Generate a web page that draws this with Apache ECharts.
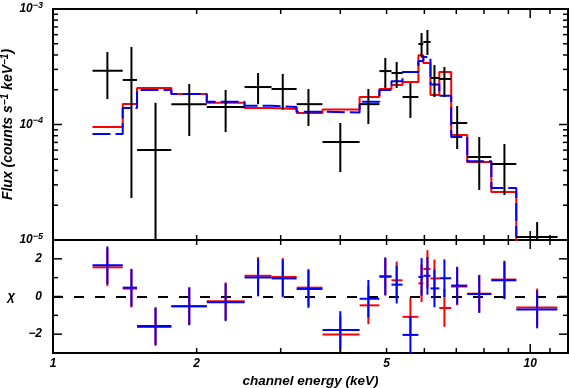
<!DOCTYPE html>
<html lang="en">
<head>
<meta charset="UTF-8">
<title>spectrum</title>
<style>
	*{margin: 0; padding: 0; box-sizing: border-box;}
	body{background-color: #fff;}
	#view{width: 569px; height: 388px;}
</style>
</head>
<body>
<div id="view"></div>
<script src="https://cdn.jsdelivr.net/npm/echarts@6/dist/echarts.min.js"></script>
<script>
// channel bins (keV)
var binLo  = [1.21, 1.40, 1.50, 1.77, 2.10, 2.52, 2.87, 3.24, 3.67, 4.39, 4.83, 5.12, 5.40, 5.83, 5.97, 6.18, 6.45, 6.83, 7.38, 8.29, 9.35];
var binHi  = [1.40, 1.50, 1.77, 2.10, 2.52, 2.87, 3.24, 3.67, 4.39, 4.83, 5.12, 5.40, 5.83, 5.97, 6.18, 6.45, 6.83, 7.38, 8.29, 9.35, 11.4];
var binMid = [1.30, 1.46, 1.64, 1.93, 2.30, 2.69, 3.03, 3.43, 4.00, 4.58, 4.97, 5.25, 5.61, 5.92, 6.09, 6.30, 6.61, 7.03, 7.82, 8.83, 10.34];

// observed flux (counts s^-1 keV^-1) with error bar ends
var flux   = [2.92e-4, 2.43e-4, 6.0e-5, 1.50e-4, 1.42e-4, 2.11e-4, 2.03e-4, 1.50e-4, 7.06e-5, 1.50e-4, 2.90e-4, 2.79e-4, 1.73e-4, 4.98e-4, 5.18e-4, 2.53e-4, 2.48e-4, 1.03e-4, 5.23e-5, 4.55e-5, 1.06e-5];
var fluxLo = [1.66e-4, 2.31e-5, 1.0e-5, 7.95e-5, 8.6e-5, 1.50e-4, 1.34e-4, 9.7e-5, 3.88e-5, 1.01e-4, 2.07e-4, 2.07e-4, 1.14e-4, 3.8e-4, 4.0e-4, 1.73e-4, 1.73e-4, 6.14e-5, 2.71e-5, 2.45e-5, 1.0e-5];
var fluxHi = [4.24e-4, 4.69e-4, 1.54e-4, 2.24e-4, 1.99e-4, 2.79e-4, 2.74e-4, 2.03e-4, 1.03e-4, 2.03e-4, 3.77e-4, 3.48e-4, 2.29e-4, 6.2e-4, 6.58e-4, 3.27e-4, 3.15e-4, 1.445e-4, 7.8e-5, 6.78e-5, 1.43e-5];

// folded models
var modelRed  = [9.5e-5, 1.505e-4, 2.07e-4, 1.84e-4, 1.54e-4, 1.39e-4, 1.36e-4, 1.26e-4, 1.35e-4, 1.73e-4, 2.03e-4, 2.20e-4, 2.33e-4, 3.98e-4, 3.4e-4, 1.80e-4, 2.85e-4, 8.11e-5, 4.73e-5, 2.6e-5, 9.0e-6];
var modelBlue = [8.28e-5, 1.39e-4, 1.99e-4, 1.84e-4, 1.57e-4, 1.45e-4, 1.42e-4, 1.29e-4, 1.27e-4, 1.57e-4, 1.99e-4, 2.37e-4, 2.85e-4, 3.55e-4, 3.84e-4, 2.22e-4, 1.77e-4, 7.8e-5, 4.8e-5, 2.82e-5, 1.06e-5];

// residuals (chi)
var chiRed  = [1.55, 0.42, -1.62, -0.52, -0.25, 1.10, 1.04, 0.47, -2.02, -0.47, 1.08, 0.86, -1.08, 0.70, 1.46, 0.96, -0.61, 0.53, 0.15, 0.90, -0.58];
var chiBlue = [1.66, 0.47, -1.57, -0.52, -0.31, 1.01, 0.96, 0.40, -1.78, -0.12, 1.05, 0.63, -2.04, 1.04, 1.10, 0.43, 0.97, 0.58, 0.13, 0.86, -0.69];

// ticks and labels
var energyTicks  = [1, 2, 3, 4, 5, 6, 7, 8, 9, 10, 11];
var energyMajor  = [1, 10];
var energyLabels = [1, 2, 5, 10];
var fluxTicks  = [1e-5, 2e-5, 3e-5, 4e-5, 5e-5, 6e-5, 7e-5, 8e-5, 9e-5, 1e-4, 2e-4, 3e-4, 4e-4, 5e-4, 6e-4, 7e-4, 8e-4, 9e-4, 1e-3];
var fluxMajor  = [1e-5, 1e-4, 1e-3];
var chiTicks  = [-3, -2, -1, 0, 1, 2, 3];
var chiMajor  = [-2, 0, 2];

var FONT = 'Liberation Sans';
var txt = {fontFamily: FONT, fontWeight: 'bold', fontStyle: 'italic', color: '#000'};

function stepData(vals){
	var pts = binLo.map(function(x, i){ return [x, vals[i]]; });
	pts.push([binHi[binHi.length - 1], vals[vals.length - 1]]);
	return pts;
}
function crossData(mid, lo, hi){
	return binLo.map(function(x, i){ return [x, binHi[i], binMid[i], mid[i], lo[i], hi[i]]; });
}
function chiData(vals){
	return crossData(vals, vals.map(function(v){ return v - 1; }), vals.map(function(v){ return v + 1; }));
}
function crossRender(color){
	return function(params, api){
		var a = api.coord([api.value(0), api.value(3)]);
		var b = api.coord([api.value(1), api.value(3)]);
		var t = api.coord([api.value(2), api.value(5)]);
		var d = api.coord([api.value(2), api.value(4)]);
		var st = {stroke: color, lineWidth: 2};
		return {type: 'group', children: [
			{type: 'line', shape: {x1: a[0], y1: a[1], x2: b[0], y2: b[1]}, style: st},
			{type: 'line', shape: {x1: t[0], y1: t[1], x2: d[0], y2: d[1]}, style: st}
		]};
	};
}
// inward ticks on both sides of a grid
function tickSeries(vals, majors, dim, gi, ref){
	return {
		type: 'custom', xAxisIndex: gi, yAxisIndex: gi, silent: true, z: 10,
		data: vals.map(function(v){ return [v]; }),
		encode: dim === 'x' ? {x: 0} : {y: 0},
		renderItem: function(params, api){
			var cs = params.coordSys;
			var v = api.value(0);
			var len = majors.indexOf(v) >= 0 ? 9 : 5;
			var st = {stroke: '#000', lineWidth: 1.5};
			if (dim === 'x') {
				var x = api.coord([v, ref])[0];
				return {type: 'group', children: [
					{type: 'line', shape: {x1: x, y1: cs.y + cs.height, x2: x, y2: cs.y + cs.height - len}, style: st},
					{type: 'line', shape: {x1: x, y1: cs.y, x2: x, y2: cs.y + len}, style: st}
				]};
			}
			var y = api.coord([ref, v])[1];
			return {type: 'group', children: [
				{type: 'line', shape: {x1: cs.x, y1: y, x2: cs.x + len, y2: y}, style: st},
				{type: 'line', shape: {x1: cs.x + cs.width, y1: y, x2: cs.x + cs.width - len, y2: y}, style: st}
			]};
		}
	};
}

var supRich = {
	b: Object.assign({fontSize: 12}, txt),
	s: Object.assign({fontSize: 9, verticalAlign: 'bottom', padding: [0, 0, 7, 0]}, txt)
};
var titleRich = {
	s: Object.assign({fontSize: 10, verticalAlign: 'bottom', padding: [0, 0, 7, 0]}, txt)
};

var option = {
	animation: false,
	backgroundColor: '#fff',
	grid: [
		{left: 53, right: 1, top: 9, height: 231, show: true, borderColor: '#000', borderWidth: 2, outerBoundsMode: 'none', containLabel: false},
		{left: 53, right: 1, top: 240, height: 113, show: true, borderColor: '#000', borderWidth: 2, outerBoundsMode: 'none', containLabel: false}
	],
	xAxis: [
		{type: 'log', gridIndex: 0, min: 1, max: 12, logBase: 10,
			axisLine: {show: false}, axisTick: {show: false}, axisLabel: {show: false}, splitLine: {show: false}},
		{type: 'log', gridIndex: 1, min: 1, max: 12, logBase: 10,
			axisLine: {show: false}, axisTick: {show: false}, splitLine: {show: false},
			axisLabel: Object.assign({fontSize: 12, margin: 5, customValues: energyLabels, formatter: function(v){ return String(Math.round(v)); }}, txt),
			name: 'channel energy (keV)', nameLocation: 'middle', nameGap: 21,
			nameTextStyle: Object.assign({fontSize: 13.5}, txt)}
	],
	yAxis: [
		{type: 'log', gridIndex: 0, min: 1e-5, max: 1e-3, logBase: 10,
			axisLine: {show: false}, axisTick: {show: false}, splitLine: {show: false},
			axisLabel: Object.assign({margin: 10, customValues: fluxMajor, rich: supRich, formatter: function(v){
				var e = Math.round(Math.log10(v));
				return '{b|10}{s|' + (e < 0 ? '\u2212' : '') + Math.abs(e) + '}';
			}}, txt),
			name: 'Flux (counts s{s|\u22121} keV{s|\u22121})', nameLocation: 'middle', nameGap: 36, nameMoveOverlap: false,
			nameTextStyle: Object.assign({fontSize: 14, rich: titleRich}, txt)},
		{type: 'value', gridIndex: 1, min: -3, max: 3,
			axisLine: {show: false}, axisTick: {show: false}, splitLine: {show: false},
			axisLabel: Object.assign({fontSize: 12, margin: 11, customValues: chiMajor, formatter: function(v){ return String(v).replace('-', '\u2212'); }}, txt),
			name: '\u03c7', nameLocation: 'middle', nameGap: 38, nameRotate: 0,
			nameTextStyle: Object.assign({fontSize: 13}, txt)}
	],
	series: [
		{type: 'line', xAxisIndex: 0, yAxisIndex: 0, step: 'end', data: stepData(modelRed), symbol: 'none', silent: true,
			lineStyle: {color: '#ff0000', width: 2}, z: 3},
		{type: 'line', xAxisIndex: 0, yAxisIndex: 0, step: 'end', data: stepData(modelBlue), symbol: 'none', silent: true,
			lineStyle: {color: '#0000ff', width: 2, type: [18, 5]}, z: 4},
		{type: 'custom', xAxisIndex: 0, yAxisIndex: 0, clip: true, silent: true, z: 5,
			data: crossData(flux, fluxLo, fluxHi), encode: {x: [0, 1, 2], y: [3, 4, 5]}, renderItem: crossRender('#000')},
		{type: 'line', xAxisIndex: 1, yAxisIndex: 1, data: [], silent: true,
			markLine: {silent: true, symbol: 'none', label: {show: false},
				lineStyle: {color: '#000', width: 2, type: [10, 11]}, data: [{yAxis: 0}]}},
		{type: 'custom', xAxisIndex: 1, yAxisIndex: 1, clip: true, silent: true, z: 5,
			data: chiData(chiRed), encode: {x: [0, 1, 2], y: [3, 4, 5]}, renderItem: crossRender('#ff0000')},
		{type: 'custom', xAxisIndex: 1, yAxisIndex: 1, clip: true, silent: true, z: 6,
			data: chiData(chiBlue), encode: {x: [0, 1, 2], y: [3, 4, 5]}, renderItem: crossRender('#0000ff')},
		tickSeries(energyTicks, energyMajor, 'x', 0, 1e-4),
		tickSeries(fluxTicks, fluxMajor, 'y', 0, 2),
		tickSeries(energyTicks, energyMajor, 'x', 1, 0),
		tickSeries(chiTicks, chiMajor, 'y', 1, 2)
	]
};

var myChart = echarts.init(document.getElementById('view'));
myChart.setOption(option);
</script>
</body>
</html>
